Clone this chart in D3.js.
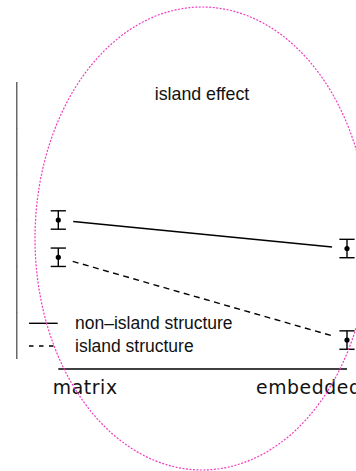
<!DOCTYPE html>
<html><head><meta charset="utf-8">
<script src="https://cdn.jsdelivr.net/npm/d3@7"></script>
<style>body{margin:0;background:#fff}svg{display:block}</style>
</head><body>
<script>
const categories = ["matrix", "embedded"];
const seriesNames = ["non\u2013island structure", "island structure"];
const nonIsland = [3.0, 2.38];
const island = [2.19, 0.39];
const nonIslandErr = [0.2, 0.2];
const islandErr = [0.2, 0.2];
const yTicks = [0, 1, 2, 3, 4, 5, 6];
const title = "island effect";

const W = 356, H = 471;
const svg = d3.select("body").append("svg").attr("width", W).attr("height", H);

const x = d3.scalePoint().domain(categories).range([58.3, 347]);
const y = d3.scaleLinear().domain([0, 6]).range([358, 82]);

// y axis (no labels)
const yAxis = d3.axisRight(y).tickValues(yTicks).tickSize(1).tickFormat("");
const ya = svg.append("g").attr("transform", "translate(16.3,0)").call(yAxis);
ya.select(".domain").attr("stroke", "#444").attr("stroke-width", 1.2);
ya.selectAll(".tick line").attr("stroke", "#666").attr("stroke-width", 1);

// x axis line
svg.append("line").attr("x1", x(categories[0])).attr("x2", x(categories[1]))
  .attr("y1", 369).attr("y2", 369).attr("stroke", "#000").attr("stroke-width", 1.4);

// x labels
const labelOffsets = [-5.5, -91];
svg.selectAll("text.xl").data(categories).enter().append("text")
  .attr("class", "xl")
  .attr("x", (d, i) => x(d) + labelOffsets[i]).attr("y", 394)
  .attr("font-family", "DejaVu Sans").attr("font-size", 18.8).attr("letter-spacing", 0.6).attr("fill", "#111")
  .text(d => d);

// title
svg.append("text").attr("x", 202).attr("y", 100).attr("text-anchor", "middle")
  .attr("font-family", "Liberation Sans, Arial").attr("font-size", 17.8).attr("fill", "#111")
  .text(title);

// series
const series = [
  {vals: nonIsland, err: nonIslandErr, dash: null},
  {vals: island, err: islandErr, dash: "6,4.5"}
];
const gap = 15;
series.forEach(s => {
  const x0 = x(categories[0]), y0 = y(s.vals[0]);
  const x1 = x(categories[1]), y1 = y(s.vals[1]);
  const len = Math.hypot(x1 - x0, y1 - y0);
  const ux = (x1 - x0) / len, uy = (y1 - y0) / len;
  const ln = svg.append("line")
    .attr("x1", x0 + ux * gap).attr("y1", y0 + uy * gap)
    .attr("x2", x1 - ux * gap).attr("y2", y1 - uy * gap)
    .attr("stroke", "#000").attr("stroke-width", 1.4);
  if (s.dash) ln.attr("stroke-dasharray", s.dash);
  categories.forEach((c, i) => {
    const cx = x(c), v = s.vals[i], e = s.err[i];
    const g = svg.append("g").attr("stroke", "#000").attr("stroke-width", 1.4);
    g.append("line").attr("x1", cx).attr("x2", cx).attr("y1", y(v + e)).attr("y2", y(v - e));
    g.append("line").attr("x1", cx - 7.6).attr("x2", cx + 7.6).attr("y1", y(v + e)).attr("y2", y(v + e));
    g.append("line").attr("x1", cx - 7.6).attr("x2", cx + 7.6).attr("y1", y(v - e)).attr("y2", y(v - e));
    svg.append("circle").attr("cx", cx).attr("cy", y(v)).attr("r", 2.6).attr("fill", "#000");
  });
});

// legend
const leg = svg.append("g");
seriesNames.forEach((name, i) => {
  const ly = 323.3 + i * 22.7;
  const l = leg.append("line").attr("x1", 29).attr("x2", 57.7).attr("y1", ly).attr("y2", ly)
    .attr("stroke", "#000").attr("stroke-width", 1.4);
  if (series[i].dash) l.attr("stroke-dasharray", "4.5,5.5");
  leg.append("text").attr("x", 75).attr("y", ly).attr("dy", "0.35em")
    .attr("font-family", "Liberation Sans, Arial").attr("font-size", 17.5).attr("fill", "#111")
    .text(name);
});

// pink ellipse
svg.append("ellipse").attr("cx", 202).attr("cy", 238.5).attr("rx", 167).attr("ry", 231.5)
  .attr("fill", "none").attr("stroke", "#f03cbe").attr("stroke-width", 1.2)
  .attr("stroke-dasharray", "2,1.5");
</script>
</body></html>
